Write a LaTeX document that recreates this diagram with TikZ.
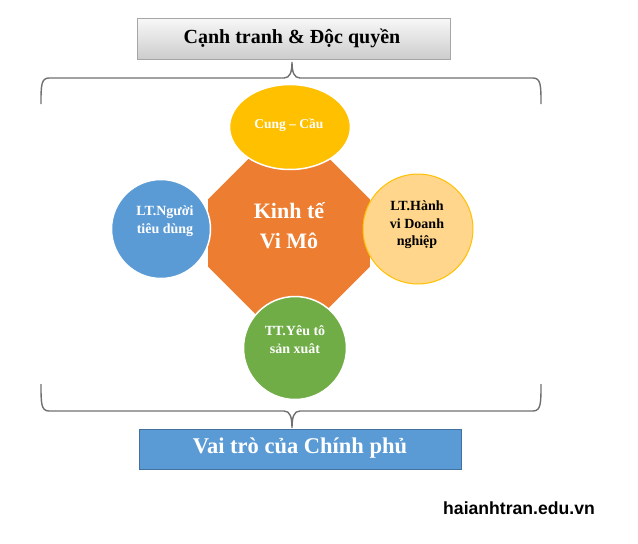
\documentclass[tikz,border=0pt]{standalone}
\usepackage{fontspec}
\setmainfont{Liberation Serif}
\newfontfamily\wmfont{Liberation Sans}
\usetikzlibrary{shapes.geometric}
\definecolor{cOrange}{HTML}{ED7D31}
\definecolor{cYellow}{HTML}{FFC000}
\definecolor{cBlue}{HTML}{5B9BD5}
\definecolor{cBlueDark}{HTML}{41719C}
\definecolor{cGreen}{HTML}{70AD47}
\definecolor{cPeach}{HTML}{FFD68B}
\definecolor{cBrace}{HTML}{707070}
\tikzset{
  bubble/.style={circle, inner sep=0pt, draw=white, line width=1.5pt},
  txt/.style={align=center, font=\bfseries\fontsize{14}{18}\selectfont, inner sep=0pt},
  brace/.style={draw=cBrace, line width=1.4pt},
}
\begin{document}
\begin{tikzpicture}[x=1pt,y=-1pt]
\useasboundingbox (0,0) rectangle (638,544);
% top box
\node[draw=gray!70, line width=1pt, top color=gray!6, bottom color=gray!40,
      minimum width=313pt, minimum height=41pt, inner sep=0pt] (top) at (293.5,39) {};
\node[font=\bfseries\fontsize{20}{24}\selectfont, inner sep=0pt] (toptxt) at (292,38) {Cạnh tranh \& Độc quyền};
% bottom box
\node[draw=cBlueDark, line width=1pt, fill=cBlue,
      minimum width=322pt, minimum height=40pt, inner sep=0pt] (bot) at (300,449) {};
\node[font=\bfseries\fontsize{22.5}{26}\selectfont, text=white, inner sep=0pt] (bottxt) at (300,448) {Vai trò của Chính phủ};
% braces
\coordinate (tl) at (41,104); \coordinate (tr) at (541,104); \coordinate (tm) at (292,62);
\draw[brace] (tl) .. controls (41,86) and (41,78) .. (49,78) -- (284,78)
  .. controls (290,78) and (292,72) .. (tm)
  .. controls (292,72) and (294,78) .. (300,78) -- (533,78)
  .. controls (541,78) and (541,86) .. (tr);
\coordinate (bl) at (41,384); \coordinate (br) at (541,384); \coordinate (bm) at (292,428);
\draw[brace] (bl) .. controls (41,403) and (41,411) .. (49,411) -- (284,411)
  .. controls (290,411) and (292,417) .. (bm)
  .. controls (292,417) and (294,411) .. (300,411) -- (533,411)
  .. controls (541,411) and (541,403) .. (br);
% octagon
\node[regular polygon, regular polygon sides=8, minimum size=175.3pt, inner sep=0pt,
      fill=cOrange, draw=none] (oct) at (289,233) {};
\node[align=center, text=white, font=\bfseries\fontsize{22}{30}\selectfont, inner sep=0pt] (octtxt) at (289,226) {Kinh tế\\Vi Mô};
% satellites
\node[ellipse, inner sep=0pt, draw=white, line width=1.5pt, fill=cYellow,
      minimum width=121pt, minimum height=85pt] (top e) at (290,127) {};
\node[txt, text=white, font=\bfseries\fontsize{13.5}{18}\selectfont] (cungtxt) at (289,125) {Cung – Cầu};
\node[bubble, fill=cBlue, minimum size=99pt] (left c) at (161,229) {};
\node[txt, text=white] (lefttxt) at (165,221) {LT.Người\\tiêu dùng};
\node[circle, inner sep=0pt, fill=cPeach, draw=cYellow, line width=1pt, minimum size=110pt] (right c) at (418,229) {};
\node[txt, text=black, font=\bfseries\fontsize{14}{17.5}\selectfont] (righttxt) at (417,225) {LT.Hành\\vi Doanh\\nghiệp};
\node[bubble, fill=cGreen, minimum size=103pt] (bot c) at (295,348) {};
\node[txt, text=white] (bottxtc) at (295,340) {TT.Yêu tô\\sản xuât};
% watermark
\node[font=\wmfont\bfseries\fontsize{17.6}{20}\selectfont, inner sep=0pt] (wm) at (519,508) {haianhtran.edu.vn};
\end{tikzpicture}
\end{document}
